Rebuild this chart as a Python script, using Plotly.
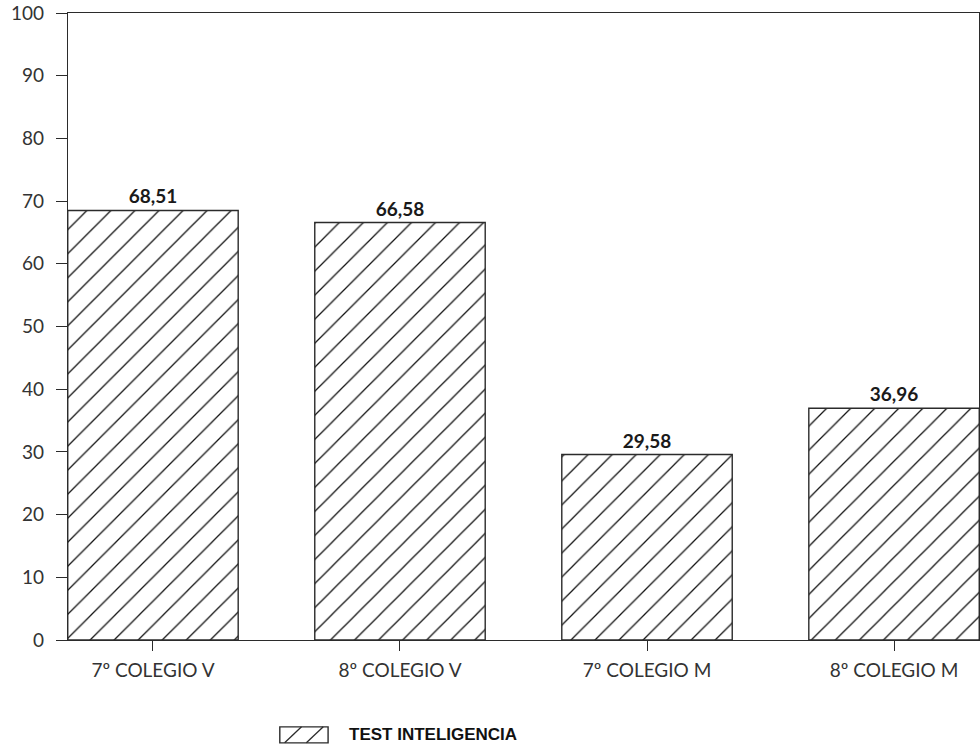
import plotly.graph_objects as go

# Data
categories = ["7º COLEGIO V", "8º COLEGIO V", "7º COLEGIO M", "8º COLEGIO M"]
scores = [68.51, 66.58, 29.58, 36.96]
series_name = "TEST INTELIGENCIA"
y_ticks = [0, 10, 20, 30, 40, 50, 60, 70, 80, 90, 100]

ink = "#2b2b2b"
font_main = "Lato, 'Open Sans', sans-serif"
font_narrow = "'Liberation Sans Narrow', 'Arial Narrow', sans-serif"

fig = go.Figure()
fig.add_trace(go.Bar(
    x=categories,
    y=scores,
    name=series_name,
    width=0.69,
    marker=dict(
        color="white",
        line=dict(color=ink, width=1.4),
        pattern=dict(shape="/", size=17, solidity=0.075,
                     fgcolor="#111111", fgopacity=1, bgcolor="white",
                     fillmode="overlay"),
    ),
    texttemplate="%{y:.2f}",
    textposition="outside",
    textfont=dict(family=font_main, size=19, color="#1a1a1a", weight="bold"),
    cliponaxis=False,
    showlegend=False,
))

# Legend key: hatched swatch and series label below the plot
sw_x0, sw_x1, sw_y0, sw_y1 = 0.2325, 0.2855, -0.164, -0.1385
shapes = [
    dict(type="rect", xref="paper", yref="paper",
         x0=sw_x0, x1=sw_x1, y0=sw_y0, y1=sw_y1,
         line=dict(color=ink, width=1.4), fillcolor="white"),
]
for frac in (0.1, 0.55):
    w = sw_x1 - sw_x0
    shapes.append(dict(type="line", xref="paper", yref="paper",
                       x0=sw_x0 + w * frac, y0=sw_y0,
                       x1=sw_x0 + w * (frac + 0.35), y1=sw_y1,
                       line=dict(color=ink, width=1.3)))

annotations = [
    dict(text="<b>" + series_name + "</b>", xref="paper", yref="paper",
         x=0.306, y=(sw_y0 + sw_y1) / 2, xanchor="left", yanchor="middle",
         showarrow=False,
         font=dict(family=font_narrow, size=17, color="#111111")),
]

fig.update_layout(
    width=980, height=752,
    margin=dict(l=68, r=1, t=13, b=112),
    paper_bgcolor="white",
    plot_bgcolor="white",
    separators=",.",
    font=dict(family=font_main, color=ink),
    showlegend=False,
    shapes=shapes,
    annotations=annotations,
    xaxis=dict(
        range=[-0.344, 3.344],
        showline=True, linecolor=ink, linewidth=1.4, mirror=True,
        ticks="outside", ticklen=10, tickcolor=ink, tickwidth=1.2,
        tickfont=dict(size=19, color="#333"),
        ticklabelstandoff=3,
        showgrid=False, zeroline=False,
    ),
    yaxis=dict(
        range=[0, 100],
        tickvals=y_ticks,
        showline=True, linecolor=ink, linewidth=1.4, mirror=True,
        ticks="outside", ticklen=11, tickcolor=ink, tickwidth=1.2,
        tickfont=dict(size=19, color="#333"),
        ticklabelstandoff=8,
        showgrid=False, zeroline=False,
    ),
)

fig.write_html("out.html")
